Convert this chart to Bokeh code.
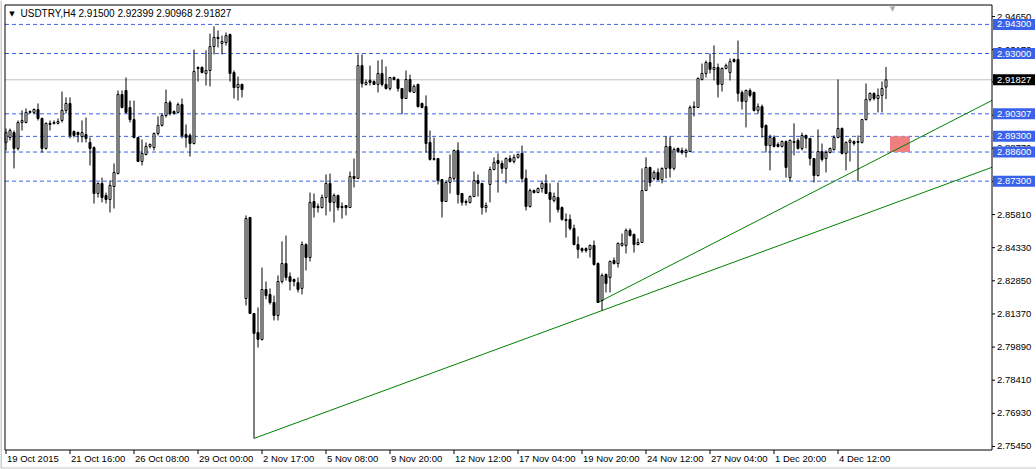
from bokeh.plotting import figure
from bokeh.models import ColumnDataSource, Range1d
from bokeh.core.properties import value
from bokeh.embed import file_html
from bokeh.resources import INLINE

symbol_title = "USDTRY,H4  2.91500 2.92399 2.90968 2.91827"

opens = [2.8903,2.8925,2.8947,2.8876,2.8992,2.8992,2.9037,2.9037,2.9050,2.9010,
2.8876,2.8988,2.8988,2.8988,2.9001,2.9046,2.9077,2.8952,2.8947,2.8929,
2.8938,2.8903,2.8880,2.8675,2.8720,2.8666,2.8648,2.8706,2.8764,2.9117,
2.9135,2.9059,2.9005,2.8925,2.8818,2.8849,2.8885,2.8880,2.8943,2.8979,
2.9023,2.9081,2.9041,2.9037,2.9072,2.8938,2.8934,2.8898,2.9238,2.9238,
2.9211,2.9224,2.9331,2.9367,2.9345,2.9349,2.9385,2.9215,2.9148,2.9162,
2.8206,2.8568,2.8139,2.8054,2.8023,2.8246,2.8224,2.8188,2.8130,2.8282,
2.8362,2.8304,2.8291,2.8277,2.8251,2.8447,2.8389,2.8639,2.8617,2.8612,
2.8657,2.8720,2.8635,2.8666,2.8617,2.8621,2.8612,2.8751,2.8742,2.9246,
2.9162,2.9180,2.9175,2.9162,2.9211,2.9162,2.9144,2.9193,2.9184,2.9144,
2.9099,2.9184,2.9126,2.9162,2.9077,2.9063,2.8903,2.8831,2.8831,2.8737,
2.8639,2.8724,2.8742,2.8867,2.8675,2.8639,2.8635,2.8661,2.8733,2.8720,
2.8612,2.8715,2.8782,2.8822,2.8809,2.8787,2.8831,2.8818,2.8836,2.8854,
2.8742,2.8617,2.8688,2.8679,2.8697,2.8720,2.8679,2.8644,2.8657,2.8612,
2.8559,2.8559,2.8519,2.8447,2.8429,2.8429,2.8425,2.8443,2.8362,2.8197,
2.8313,2.8300,2.8376,2.8362,2.8443,2.8443,2.8510,2.8492,2.8447,2.8456,
2.8688,2.8791,2.8742,2.8769,2.8737,2.8787,2.8885,2.8787,2.8876,2.8867,
2.8858,2.8862,2.9063,2.9059,2.9184,2.9211,2.9260,2.9229,2.9238,2.9162,
2.9233,2.9215,2.9273,2.9273,2.9126,2.9086,2.9135,2.9126,2.9046,2.9063,
2.8979,2.8889,2.8925,2.8894,2.8885,2.8907,2.8746,2.8907,2.8912,2.8876,
2.8934,2.8921,2.8831,2.8755,2.8862,2.8831,2.8858,2.8871,2.8925,2.8965,
2.8854,2.8903,2.8907,2.8903,2.8903,2.9005,2.9095,2.9122,2.9099,2.9113,
2.91500]

highs = [2.8965,2.8965,2.8956,2.9001,2.9046,2.9055,2.9046,2.9055,2.9077,2.9014,
2.8992,2.9001,2.9001,2.9010,2.9130,2.9104,2.9104,2.8956,2.8952,2.9001,
2.9014,2.8925,2.8885,2.8724,2.8746,2.8679,2.8733,2.8809,2.9135,2.9135,
2.9193,2.9090,2.9090,2.8925,2.8916,2.8903,2.8898,2.8947,2.9019,2.9032,
2.9139,2.9090,2.9046,2.9081,2.9099,2.8983,2.8943,2.9318,2.9242,2.9242,
2.9314,2.9389,2.9421,2.9403,2.9380,2.9394,2.9389,2.9224,2.9197,2.9166,
2.8577,2.8568,2.8139,2.8166,2.8344,2.8282,2.8251,2.8219,2.8309,2.8461,
2.8487,2.8322,2.8295,2.8300,2.8461,2.8452,2.8679,2.8675,2.8630,2.8670,
2.8760,2.8764,2.8675,2.8670,2.8635,2.8621,2.8773,2.8831,2.9296,2.9296,
2.9184,2.9246,2.9180,2.9269,2.9273,2.9242,2.9193,2.9197,2.9189,2.9144,
2.9224,2.9206,2.9162,2.9166,2.9081,2.9113,2.8956,2.8925,2.8831,2.8737,
2.8733,2.8849,2.8871,2.8903,2.8675,2.8648,2.8666,2.8773,2.8760,2.8720,
2.8635,2.8795,2.8836,2.8854,2.8822,2.8836,2.8845,2.8849,2.8854,2.8889,
2.8782,2.8697,2.8693,2.8702,2.8733,2.8760,2.8720,2.8679,2.8724,2.8617,
2.8586,2.8581,2.8536,2.8483,2.8434,2.8434,2.8447,2.8465,2.8367,2.8318,
2.8318,2.8376,2.8389,2.8456,2.8496,2.8519,2.8519,2.8496,2.8474,2.8787,
2.8836,2.8795,2.8778,2.8787,2.8791,2.8929,2.8929,2.8880,2.8880,2.8880,
2.8876,2.9068,2.9086,2.9193,2.9255,2.9269,2.9300,2.9336,2.9255,2.9238,
2.9255,2.9278,2.9278,2.9358,2.9135,2.9139,2.9144,2.9130,2.9077,2.9072,
2.8983,2.8938,2.8934,2.8903,2.8912,2.8912,2.8916,2.8988,2.8921,2.8947,
2.8938,2.8921,2.8831,2.8961,2.8898,2.8867,2.8880,2.8934,2.9184,2.8970,
2.8907,2.8921,2.8912,2.8934,2.9005,2.9166,2.9126,2.9126,2.9144,2.9175,
2.92399]

lows = [2.8867,2.8912,2.8787,2.8867,2.8956,2.8988,2.9032,2.9032,2.9001,2.8858,
2.8871,2.8956,2.8983,2.8983,2.8992,2.9032,2.8921,2.8925,2.8903,2.8903,
2.8903,2.8800,2.8630,2.8657,2.8635,2.8630,2.8590,2.8608,2.8760,2.9055,
2.9032,2.8992,2.8921,2.8818,2.8800,2.8845,2.8876,2.8867,2.8934,2.8974,
2.9014,2.9023,2.9028,2.9032,2.8921,2.8880,2.8840,2.8894,2.9175,2.9211,
2.9157,2.9153,2.9296,2.9327,2.9296,2.9336,2.9175,2.9099,2.9090,2.9104,
2.8175,2.8139,2.7581,2.7987,2.8018,2.8202,2.8179,2.8108,2.8108,2.8273,
2.8286,2.8242,2.8260,2.8233,2.8224,2.8331,2.8371,2.8568,2.8590,2.8608,
2.8577,2.8594,2.8545,2.8599,2.8563,2.8577,2.8612,2.8702,2.8742,2.9148,
2.9157,2.9157,2.9162,2.9126,2.9153,2.9139,2.9135,2.9180,2.9130,2.9028,
2.9099,2.9126,2.9126,2.9059,2.9055,2.8858,2.8822,2.8822,2.8715,2.8568,
2.8639,2.8675,2.8733,2.8630,2.8621,2.8621,2.8630,2.8661,2.8661,2.8581,
2.8590,2.8635,2.8778,2.8679,2.8764,2.8720,2.8813,2.8809,2.8831,2.8724,
2.8599,2.8612,2.8675,2.8679,2.8679,2.8675,2.8545,2.8635,2.8590,2.8554,
2.8478,2.8510,2.8443,2.8385,2.8411,2.8411,2.8389,2.8353,2.8188,2.8152,
2.8233,2.8233,2.8358,2.8344,2.8438,2.8407,2.8483,2.8411,2.8443,2.8456,
2.8688,2.8706,2.8733,2.8733,2.8720,2.8742,2.8746,2.8778,2.8858,2.8849,
2.8836,2.8862,2.9019,2.9059,2.9180,2.9193,2.9211,2.9180,2.9104,2.9130,
2.9229,2.9180,2.9260,2.9086,2.9050,2.8970,2.9104,2.9041,2.9032,2.8925,
2.8858,2.8778,2.8880,2.8880,2.8880,2.8746,2.8729,2.8845,2.8871,2.8867,
2.8876,2.8800,2.8724,2.8751,2.8818,2.8769,2.8854,2.8867,2.8921,2.8849,
2.8778,2.8818,2.8889,2.8729,2.8898,2.9001,2.9086,2.9090,2.9037,2.9037,
2.90968]

closes = [2.8947,2.8956,2.8876,2.8992,2.9001,2.9037,2.9041,2.9050,2.9010,2.8876,
2.8988,2.8983,2.8992,2.8996,2.9046,2.9077,2.8934,2.8934,2.8938,2.8947,
2.8921,2.8876,2.8675,2.8720,2.8657,2.8648,2.8711,2.8769,2.9117,2.9059,
2.9037,2.9005,2.8925,2.8818,2.8854,2.8885,2.8894,2.8943,2.8979,2.9023,
2.9081,2.9032,2.9032,2.9072,2.8934,2.8925,2.8898,2.9220,2.9233,2.9215,
2.9224,2.9331,2.9372,2.9372,2.9354,2.9380,2.9211,2.9148,2.9162,2.9139,
2.8563,2.8139,2.8050,2.8023,2.8246,2.8219,2.8188,2.8130,2.8282,2.8362,
2.8300,2.8282,2.8282,2.8246,2.8447,2.8389,2.8635,2.8612,2.8612,2.8657,
2.8720,2.8635,2.8666,2.8612,2.8612,2.8612,2.8751,2.8742,2.9246,2.9166,
2.9171,2.9171,2.9162,2.9211,2.9162,2.9144,2.9193,2.9184,2.9144,2.9099,
2.9184,2.9130,2.9153,2.9063,2.9059,2.8898,2.8827,2.8827,2.8733,2.8639,
2.8724,2.8746,2.8867,2.8670,2.8635,2.8635,2.8661,2.8733,2.8720,2.8612,
2.8621,2.8782,2.8813,2.8809,2.8787,2.8831,2.8818,2.8836,2.8849,2.8742,
2.8617,2.8688,2.8679,2.8697,2.8720,2.8675,2.8648,2.8661,2.8603,2.8559,
2.8554,2.8519,2.8447,2.8425,2.8420,2.8420,2.8443,2.8358,2.8188,2.8309,
2.8273,2.8371,2.8362,2.8452,2.8452,2.8510,2.8487,2.8447,2.8456,2.8688,
2.8791,2.8724,2.8769,2.8737,2.8787,2.8885,2.8787,2.8871,2.8862,2.8858,
2.8867,2.9059,2.9059,2.9189,2.9211,2.9260,2.9229,2.9238,2.9162,2.9233,
2.9246,2.9264,2.9264,2.9122,2.9086,2.9135,2.9113,2.9046,2.9063,2.8970,
2.8889,2.8925,2.8885,2.8885,2.8907,2.8791,2.8912,2.8903,2.8876,2.8934,
2.8921,2.8831,2.8755,2.8862,2.8827,2.8858,2.8876,2.8925,2.8965,2.8854,
2.8903,2.8912,2.8898,2.8907,2.9005,2.9095,2.9122,2.9099,2.9113,2.9144,
2.91827]

time_ticks = [0, 16, 32, 48, 64, 80, 96, 112, 128, 144, 160, 176, 192, 208]
time_labels = ["19 Oct 2015", "21 Oct 16:00", "26 Oct 08:00", "29 Oct 00:00",
               "2 Nov 17:00", "5 Nov 08:00", "9 Nov 20:00", "12 Nov 12:00",
               "17 Nov 04:00", "19 Nov 20:00", "24 Nov 12:00", "27 Nov 04:00",
               "1 Dec 20:00", "4 Dec 12:00"]

price_ticks = [2.75450, 2.76930, 2.78410, 2.79890, 2.81370, 2.82850, 2.84330,
               2.85810, 2.87290, 2.88770, 2.90250, 2.91730, 2.93170, 2.94650]

level_prices = [2.94300, 2.93000, 2.90307, 2.89300, 2.88600, 2.87300]
last_price = 2.91827

trend_lower = [(62, 2.7581), (149, 2.8152)]
trend_upper = [(148, 2.8188), (246, 2.9086)]

zone_bars = [221, 226]
zone_prices = [2.88600, 2.89300]

# ------------------------------------------------------------------
# Layout: the whole canvas is the plotting frame; the price scale and
# time scale are drawn as decorations in the margins of the chart box.
W, H = 1036, 469
BAR_PX = 4.0            # horizontal pixels per H4 bar
BAR0_PX = 5.5           # pixel column of bar 0
PRICE_PER_PX = 0.0004466
PRICE_AT_TOP = 2.95368  # price at canvas row 0


def bx(px):             # canvas column -> bar coordinate
    return (px - BAR0_PX) / BAR_PX


def py(row):            # canvas row -> price coordinate
    return PRICE_AT_TOP - row * PRICE_PER_PX


X0, X1 = bx(4.5), bx(991.5)          # chart box left / right
P_TOP, P_BOT = py(4.5), py(449.5)    # chart box top / bottom

FONT = value("Liberation Sans")
LEVEL_BLUE = "#3A62E8"

n = len(opens)
idx = list(range(n))

p = figure(width=W, height=H, output_backend="svg", toolbar_location=None,
           x_range=Range1d(bx(0), bx(W)), y_range=Range1d(py(H), py(0)),
           x_axis_location=None, y_axis_location=None, min_border=0)
p.grid.visible = False
p.outline_line_color = None
p.background_fill_color = "white"
p.border_fill_color = "white"

# window edge (light gray)
p.line([bx(0.5), bx(0.5)], [py(0), py(467.5)], line_color="#A0A0A0", line_width=1)
p.line([bx(0), bx(W)], [py(467.5), py(467.5)], line_color="#C8C8C8", line_width=1)

# horizontal levels and current price line
p.segment(x0=[X0] * len(level_prices), x1=[X1] * len(level_prices),
          y0=level_prices, y1=level_prices, line_color=LEVEL_BLUE,
          line_dash="4 3", line_width=1)
p.segment(x0=[X0], x1=[X1], y0=[last_price], y1=[last_price],
          line_color="#C0C0C0", line_width=1)

# zone rectangle
p.quad(left=[zone_bars[0]], right=[zone_bars[1]], bottom=[zone_prices[0]],
       top=[zone_prices[1]], fill_color="#F08080", line_color=None)


# trend lines, extended to the right edge of the chart box
def extend(anchors, x_end):
    (xa, ya), (xb, yb) = anchors
    k = (yb - ya) / (xb - xa)
    return [xa, x_end], [ya, ya + k * (x_end - xa)]


for tl in (trend_lower, trend_upper):
    xs, ys = extend(tl, X1)
    p.line(xs, ys, line_color="#008000", line_width=1)

# candles
p.segment(x0=idx, y0=lows, x1=idx, y1=highs, line_color="black", line_width=1)
bull = dict(x=[], top=[], bottom=[])
bear = dict(x=[], top=[], bottom=[])
for i, o, c in zip(idx, opens, closes):
    d = bull if c >= o else bear
    d["x"].append(i)
    d["top"].append(max(o, c))
    d["bottom"].append(min(o, c))
p.vbar(x="x", top="top", bottom="bottom", width=0.5, source=ColumnDataSource(bull),
       fill_color="white", line_color="black", line_width=1)
p.vbar(x="x", top="top", bottom="bottom", width=0.5, source=ColumnDataSource(bear),
       fill_color="black", line_color="black", line_width=1)

# chart box
p.line([X0, X1, X1, X0, X0], [P_TOP, P_TOP, P_BOT, P_BOT, P_TOP],
       line_color="black", line_width=1)

# price scale
nt = len(price_ticks)
p.segment(x0=[X1] * nt, x1=[bx(994.5)] * nt, y0=price_ticks, y1=price_ticks,
          line_color="black", line_width=1)
p.text(x=[bx(996.5)] * nt, y=price_ticks, text=["%.5f" % t for t in price_ticks],
       text_font=FONT, text_font_size="9.5px", text_color="black",
       text_align="left", text_baseline="middle")

# level boxes and last price box on the price scale
nl = len(level_prices)
p.rect(x=[bx(1013.5)] * nl, y=level_prices, width=42, height=11,
       width_units="screen", height_units="screen",
       fill_color=LEVEL_BLUE, line_color=None)
p.text(x=[bx(996.5)] * nl, y=level_prices, text=["%.5f" % v for v in level_prices],
       text_font=FONT, text_font_size="9.5px", text_color="white",
       text_align="left", text_baseline="middle")
p.rect(x=[bx(1013.5)], y=[last_price], width=42, height=11,
       width_units="screen", height_units="screen",
       fill_color="black", line_color=None)
p.text(x=[bx(996.5)], y=[last_price], text=["%.5f" % last_price],
       text_font=FONT, text_font_size="9.5px", text_color="white",
       text_align="left", text_baseline="middle")

# time scale
ntt = len(time_ticks)
p.segment(x0=time_ticks, x1=time_ticks, y0=[P_BOT] * ntt, y1=[py(453.5)] * ntt,
          line_color="black", line_width=1)
p.text(x=time_ticks, y=[py(452.5)] * ntt, text=time_labels, x_offset=1,
       text_font=FONT, text_font_size="9.5px", text_color="black",
       text_align="left", text_baseline="top")

# title and chart-shift marker
p.text(x=[bx(11.5)], y=[py(13)], text=["\u25BC"], text_font=value("DejaVu Sans"),
       text_font_size="7px", text_color="black", text_align="center",
       text_baseline="middle")
p.text(x=[bx(20)], y=[py(7)], text=[symbol_title], text_font=FONT,
       text_font_size="10px", text_color="black", text_align="left",
       text_baseline="top")
p.text(x=[bx(892)], y=[py(4.5)], text=["\u25BC"], text_font=value("DejaVu Sans"),
       text_font_size="7px", text_color="#A8A8A8", text_align="center",
       text_baseline="top")

open("out.html", "w").write(file_html(p, INLINE))
